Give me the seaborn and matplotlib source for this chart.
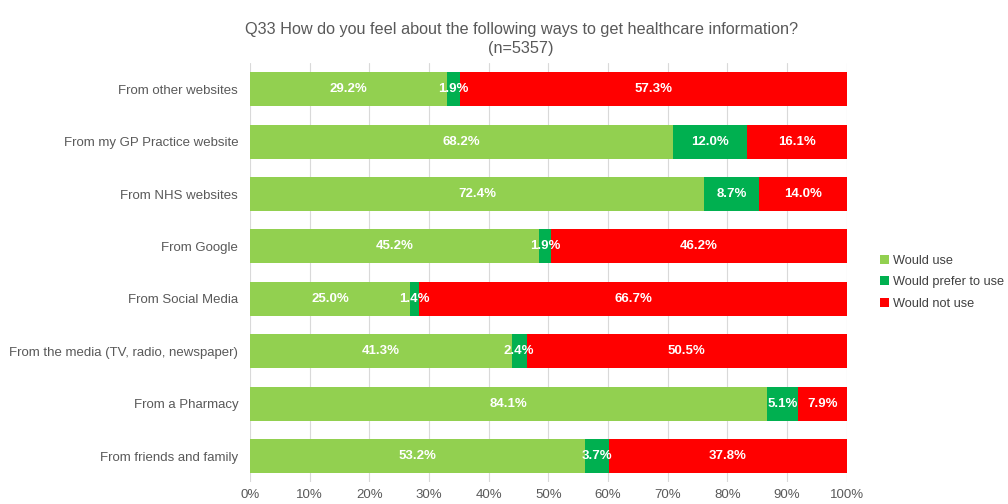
import matplotlib
matplotlib.use("Agg")
import matplotlib.pyplot as plt
from matplotlib.patches import Patch
import seaborn as sns
import pandas as pd
import numpy as np

categories = [
    "From other websites",
    "From my GP Practice website",
    "From NHS websites",
    "From Google",
    "From Social Media",
    "From the media (TV, radio, newspaper)",
    "From a Pharmacy",
    "From friends and family",
]
would_use = [29.2, 68.2, 72.4, 45.2, 25.0, 41.3, 84.1, 53.2]
would_prefer = [1.9, 12.0, 8.7, 1.9, 1.4, 2.4, 5.1, 3.7]
would_not = [57.3, 16.1, 14.0, 46.2, 66.7, 50.5, 7.9, 37.8]
series_names = ["Would use", "Would prefer to use", "Would not use"]
colors = ["#92D050", "#00B050", "#FF0000"]

sns.set_theme(style="white")
plt.rcParams["font.family"] = ["Liberation Sans", "DejaVu Sans"]

raw = np.array([would_use, would_prefer, would_not])
share = raw / raw.sum(axis=0) * 100
cum = np.cumsum(share, axis=0)

df = pd.DataFrame({"category": categories})
for i in range(3):
    df[f"cum{i}"] = cum[i]

fig = plt.figure(figsize=(10.08, 5.04), dpi=100)
ax = fig.add_axes([0.248, 0.043, 0.592, 0.832])

# stacked 100% bars: draw the cumulative totals from the outermost segment inward
for i in [2, 1, 0]:
    sns.barplot(data=df, y="category", x=f"cum{i}", orient="h", color=colors[i],
                saturation=1, width=0.65, linewidth=0, edgecolor="none", ax=ax, zorder=2)

for j in range(len(categories)):
    for i in range(3):
        left = cum[i][j] - share[i][j]
        ax.text(left + share[i][j] / 2, j, f"{raw[i][j]:.1f}%", ha="center", va="center",
                color="white", fontsize=9.5, fontweight="bold", zorder=3)

ax.set_xlim(0, 100)
ax.set_ylim(len(categories) - 0.5, -0.5)
ax.set_xticks(np.arange(0, 101, 10))
ax.set_xticklabels([f"{v}%" for v in range(0, 101, 10)], color="#595959", fontsize=9.5)
ax.tick_params(axis="y", labelsize=9.5, labelcolor="#595959", length=0, pad=8.5)
ax.tick_params(axis="x", length=0, pad=5)
ax.set_xlabel("")
ax.set_ylabel("")
ax.grid(axis="x", color="#D9D9D9", linewidth=0.8, zorder=0)
ax.set_axisbelow(True)
for s in ax.spines.values():
    s.set_visible(False)

fig.text(0.517, 0.922, "Q33 How do you feel about the following ways to get healthcare information?\n(n=5357)",
         ha="center", va="center", fontsize=11.7, color="#595959", linespacing=1.35)

handles = [Patch(facecolor=c, edgecolor="none") for c in colors]
fig.legend(handles, series_names, loc="center left", bbox_to_anchor=(0.862, 0.44),
           frameon=False, fontsize=9.2, handlelength=0.7, handleheight=0.7,
           handletextpad=0.3, labelspacing=0.75, labelcolor="#404040")

fig.savefig("out.png", dpi=100)
